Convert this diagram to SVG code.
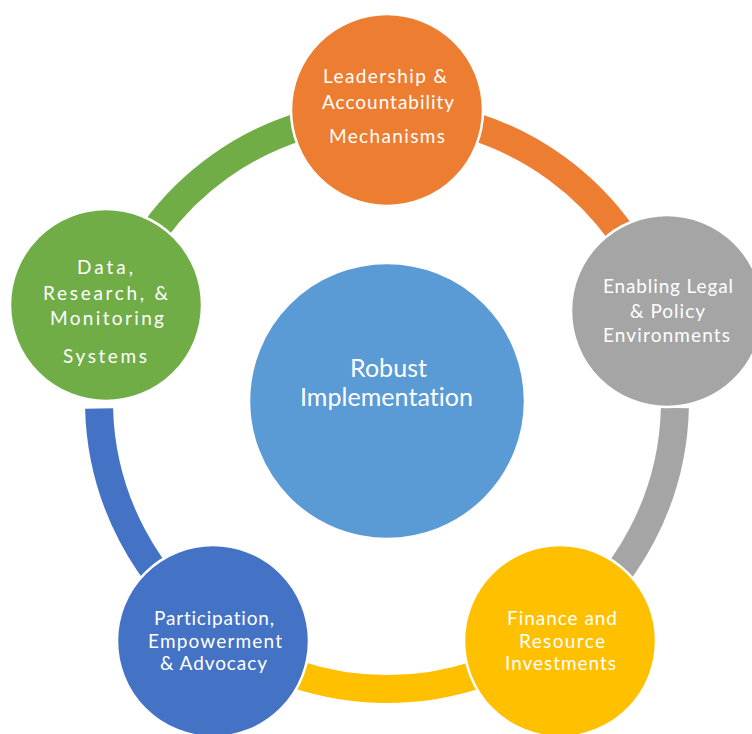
<svg xmlns="http://www.w3.org/2000/svg" width="752" height="734" viewBox="0 0 752 734">
<style>
.band{fill:none;stroke-width:28;stroke-linecap:butt}
.node{stroke:#FFFFFF;stroke-width:2.5}
.lbl{font-family:Lato,"Open Sans","Liberation Sans",sans-serif;fill:#FFFFFF;text-anchor:middle;font-size:19px;font-variant-ligatures:none;font-feature-settings:"liga" 0}
.big{font-size:25px}
</style>
<rect width="752" height="734" fill="#FFFFFF"/>
<g id="connectors">
<path class="band" stroke="#ED7D31" d="M387,113 A288,288 0 0 1 661.2,313"/>
<path class="band" stroke="#A5A5A5" d="M674.9,408 A288,288 0 0 1 555.5,634.6"/>
<path class="band" stroke="#FFC000" d="M555.5,634.6 A288,288 0 0 1 218.1,634.3"/>
<path class="band" stroke="#4472C4" d="M218.1,634.3 A288,288 0 0 1 99.1,408.5"/>
<path class="band" stroke="#70AD47" d="M114.5,307.7 A288,288 0 0 1 387,113"/>
</g>
<g id="center">
<circle class="node" cx="387" cy="401" r="138" fill="#5B9BD5"/>
<text class="lbl big" x="388.5" y="377" textLength="77">Robust</text>
<text class="lbl big" x="386.5" y="406" textLength="173">Implementation</text>
</g>
<g id="leadership">
<circle class="node" cx="387" cy="110" r="96" fill="#ED7D31"/>
<text class="lbl" x="385" y="83" textLength="124">Leadership &amp;</text>
<text class="lbl" x="388" y="109" textLength="132">Accountability</text>
<text class="lbl" x="387" y="143" textLength="116">Mechanisms</text>
</g>
<g id="legal">
<circle class="node" cx="667" cy="311" r="96" fill="#A5A5A5"/>
<text class="lbl" x="668" y="293" textLength="130">Enabling Legal</text>
<text class="lbl" x="667.5" y="318" textLength="75">&amp; Policy</text>
<text class="lbl" x="666.5" y="342" textLength="127">Environments</text>
</g>
<g id="finance">
<circle class="node" cx="560" cy="641" r="96" fill="#FFC000"/>
<text class="lbl" x="562" y="625" textLength="110">Finance and</text>
<text class="lbl" x="562" y="648" textLength="86">Resource</text>
<text class="lbl" x="560.5" y="670" textLength="111">Investments</text>
</g>
<g id="participation">
<circle class="node" cx="213" cy="641" r="96" fill="#4472C4"/>
<text class="lbl" x="214" y="625" textLength="120">Participation,</text>
<text class="lbl" x="215" y="648" textLength="134">Empowerment</text>
<text class="lbl" x="213.5" y="670" textLength="107">&amp; Advocacy</text>
</g>
<g id="data">
<circle class="node" cx="106" cy="305" r="96" fill="#70AD47"/>
<text class="lbl" x="105" y="274" textLength="56">Data,</text>
<text class="lbl" x="105.5" y="300" textLength="125">Research, &amp;</text>
<text class="lbl" x="107" y="325" textLength="114">Monitoring</text>
<text class="lbl" x="105" y="363" textLength="84">Systems</text>
</g>
</svg>
